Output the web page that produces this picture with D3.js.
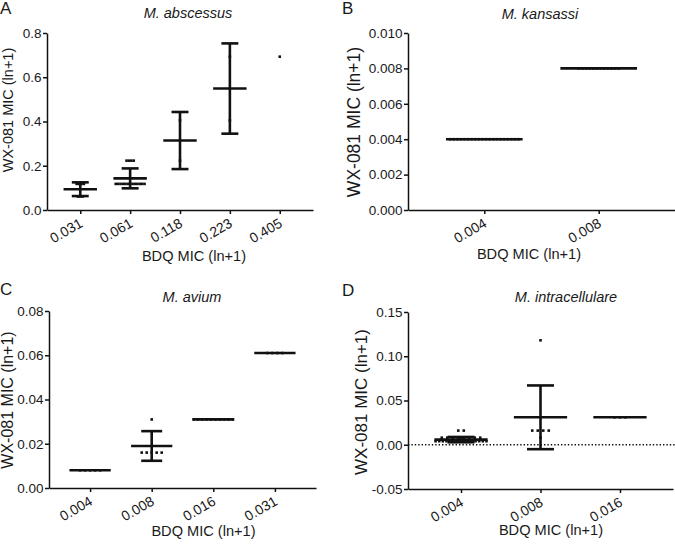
<!DOCTYPE html>
<html><head><meta charset="utf-8">
<script src="https://cdn.jsdelivr.net/npm/d3@7"></script>
<style>
html,body{margin:0;padding:0;background:#fff;}
svg text{font-family:"Liberation Sans",Arial,Helvetica,sans-serif;fill:#1a1a1a;}
</style></head>
<body>
<svg id="chart" width="675" height="546"></svg>
<script>
// ---------- DATA ----------
// Panel A: M. abscessus
const catsA   = ["0.031", "0.061", "0.118", "0.223", "0.405"];
const pointsA = [
  [0.118, 0.118, 0.118, 0.118, 0.061, 0.061, 0.061],
  [0.223, 0.223, 0.223, 0.223, 0.118, 0.118, 0.118, 0.118, 0.118, 0.118, 0.118, 0.118, 0.118, 0.118, 0.118, 0.118, 0.118],
  [0.405, 0.223],
  [0.693, 0.405],
  [0.693]
];
const meanA  = [0.094, 0.143, 0.314, 0.549, null];
const sdA    = [0.031, 0.045, 0.129, 0.204, null];
const ticksA = [0, 0.2, 0.4, 0.6, 0.8];

// Panel B: M. kansassi
const catsB   = ["0.004", "0.008"];
const pointsB = [
  [0.004, 0.004, 0.004, 0.004, 0.004, 0.004, 0.004, 0.004, 0.004, 0.004, 0.004, 0.004, 0.004, 0.004, 0.004, 0.004, 0.004, 0.004, 0.004, 0.004],
  [0.008, 0.008, 0.008, 0.008, 0.008, 0.008, 0.008, 0.008, 0.008, 0.008, 0.008, 0.008]
];
const meanB  = [0.004, 0.008];
const sdB    = [0, 0];
const ticksB = [0, 0.002, 0.004, 0.006, 0.008, 0.010];

// Panel C: M. avium
const catsC   = ["0.004", "0.008", "0.016", "0.031"];
const pointsC = [
  [0.008, 0.008, 0.008, 0.008, 0.008],
  [0.031, 0.016, 0.016, 0.016, 0.016, 0.016],
  [0.031, 0.031, 0.031, 0.031, 0.031, 0.031, 0.031, 0.031, 0.031, 0.031],
  [0.061, 0.061, 0.061, 0.061]
];
const meanC  = [0.008, 0.019, 0.031, 0.061];
const sdC    = [0, 0.0067, 0, 0];
const ticksC = [0, 0.02, 0.04, 0.06, 0.08];

// Panel D: M. intracellulare
const catsD   = ["0.004", "0.008", "0.016"];
const pointsD = [
  [0.016, 0.016, 0.008, 0.008, 0.008, 0.008, 0.008, 0.008, 0.008, 0.008,
   0.004, 0.004, 0.004, 0.004, 0.004, 0.004, 0.004, 0.004, 0.004, 0.004, 0.004, 0.004, 0.004, 0.004, 0.004],
  [0.118, 0.031, 0.016, 0.016, 0.016, 0.016, 0.008],
  [0.031, 0.031, 0.031]
];
const meanD  = [0.0058, 0.031, 0.031];
const sdD    = [0.003, 0.036, 0];
const ticksD = [-0.05, 0, 0.05, 0.10, 0.15];

const xAxisTitle = "BDQ MIC (ln+1)";
const yAxisTitle = "WX-081 MIC (ln+1)";

// ---------- LAYOUT ----------
const panels = [
  {cats: catsA, pts: pointsA, mean: meanA, sd: sdA, ticks: ticksA, domain: [0, 0.8], fmt: ".1f",
   letter: "A", title: "M. abscessus", spacing: 2.4,
   x0: 47, x1: 313, yTop: 33, yBot: 210,
   letterPos: [0, 14], titlePos: [188, 18], yTitlePos: [12.5, 110], yTitleSize: 14.5, xTitlePos: [194, 261]},
  {cats: catsB, pts: pointsB, mean: meanB, sd: sdB, ticks: ticksB, domain: [0, 0.010], fmt: ".3f",
   letter: "B", title: "M. kansassi", spacing: 3.6,
   x0: 408, x1: 675, yTop: 33, yBot: 210,
   letterPos: [342, 14], titlePos: [540, 19], yTitlePos: [360, 122], yTitleSize: 17.5, xTitlePos: [529, 259]},
  {cats: catsC, pts: pointsC, mean: meanC, sd: sdC, ticks: ticksC, domain: [0, 0.08], fmt: ".2f",
   letter: "C", title: "M. avium", spacing: 5,
   x0: 49, x1: 316, yTop: 311, yBot: 488,
   letterPos: [0, 295], titlePos: [192, 302], yTitlePos: [13, 400], yTitleSize: 16, xTitlePos: [203.5, 536]},
  {cats: catsD, pts: pointsD, mean: meanD, sd: sdD, ticks: ticksD, domain: [-0.05, 0.15], fmt: ".2f",
   letter: "D", title: "M. intracellulare", spacing: 5.5,
   x0: 408, x1: 673, yTop: 312, yBot: 489,
   letterPos: [342, 296], titlePos: [566, 302], yTitlePos: [367, 402], yTitleSize: 17, xTitlePos: [551, 535],
   zeroLine: true}
];

const svg = d3.select("#chart");
const INK = "#111";

panels.forEach(p => {
  const g = svg.append("g");
  const x = d3.scalePoint().domain(p.cats).range([p.x0, p.x1]).padding(0.667);
  const y = d3.scaleLinear().domain(p.domain).range([p.yBot, p.yTop]);
  const step = x.step();
  const f = d3.format(p.fmt);
  const fmt = d => f(d).replace("\u2212", "-");

  // zero reference line (dotted)
  if (p.zeroLine) {
    g.append("line")
      .attr("x1", p.x0).attr("x2", p.x1 + 2)
      .attr("y1", y(0)).attr("y2", y(0))
      .attr("stroke", INK).attr("stroke-width", 1.4)
      .attr("stroke-dasharray", "1.4,2");
  }

  // y axis
  const ya = g.append("g").attr("transform", `translate(${p.x0},0)`)
    .call(d3.axisLeft(y).tickValues(p.ticks).tickFormat(fmt).tickSize(4).tickPadding(1.5).tickSizeOuter(0));
  // x axis
  const xa = g.append("g").attr("transform", `translate(0,${p.yBot})`)
    .call(d3.axisBottom(x).tickSize(4).tickSizeOuter(0));
  [ya, xa].forEach(a => {
    a.select(".domain").attr("stroke", INK).attr("stroke-width", 1.5);
    a.selectAll(".tick line").attr("stroke", INK).attr("stroke-width", 1.5);
    a.selectAll("text").attr("font-family", "Liberation Sans, Arial, sans-serif").attr("fill", "#1a1a1a");
  });
  ya.selectAll("text").attr("font-size", 13.5);
  xa.selectAll(".tick text")
    .attr("font-size", 14)
    .attr("text-anchor", "end")
    .attr("x", 3).attr("y", 16).attr("dy", 0)
    .attr("transform", "rotate(-30,3,16)");

  // points
  p.cats.forEach((c, i) => {
    const vals = p.pts[i];
    const rows = d3.groups(vals, v => v);
    rows.forEach(([v, arr]) => {
      const k = arr.length;
      const sp = k > 1 ? Math.min(p.spacing, 0.64 * step / (k - 1)) : 0;
      arr.forEach((_, j) => {
        const cx = x(c) + (j - (k - 1) / 2) * sp;
        g.append("rect")
          .attr("x", cx - 1.3).attr("y", y(v) - 1.3)
          .attr("width", 2.6).attr("height", 2.6)
          .attr("fill", INK);
      });
    });
  });

  // mean and SD bars
  p.cats.forEach((c, i) => {
    const m = p.mean[i];
    if (m === null) return;
    const s = p.sd[i];
    const cx = x(c);
    const hw = 0.335 * step, cw = 0.17 * step;
    if (s > 0) {
      g.append("line").attr("x1", cx).attr("x2", cx).attr("y1", y(m - s)).attr("y2", y(m + s))
        .attr("stroke", INK).attr("stroke-width", 2.6);
      [m - s, m + s].forEach(v => {
        g.append("line").attr("x1", cx - cw).attr("x2", cx + cw).attr("y1", y(v)).attr("y2", y(v))
          .attr("stroke", INK).attr("stroke-width", 2.6);
      });
    }
    g.append("line").attr("x1", cx - hw).attr("x2", cx + hw).attr("y1", y(m)).attr("y2", y(m))
      .attr("stroke", INK).attr("stroke-width", 2.6);
  });

  // titles and labels
  g.append("text").attr("x", p.letterPos[0]).attr("y", p.letterPos[1])
    .attr("font-size", 17).text(p.letter);
  g.append("text").attr("x", p.titlePos[0]).attr("y", p.titlePos[1])
    .attr("text-anchor", "middle").attr("font-size", 14.5).attr("font-style", "italic").text(p.title);
  g.append("text").attr("x", p.xTitlePos[0]).attr("y", p.xTitlePos[1])
    .attr("text-anchor", "middle").attr("font-size", 14.6).text(xAxisTitle);
  g.append("text")
    .attr("transform", `translate(${p.yTitlePos[0]},${p.yTitlePos[1]}) rotate(-90)`)
    .attr("text-anchor", "middle").attr("font-size", p.yTitleSize).text(yAxisTitle);
});
</script>
</body></html>
